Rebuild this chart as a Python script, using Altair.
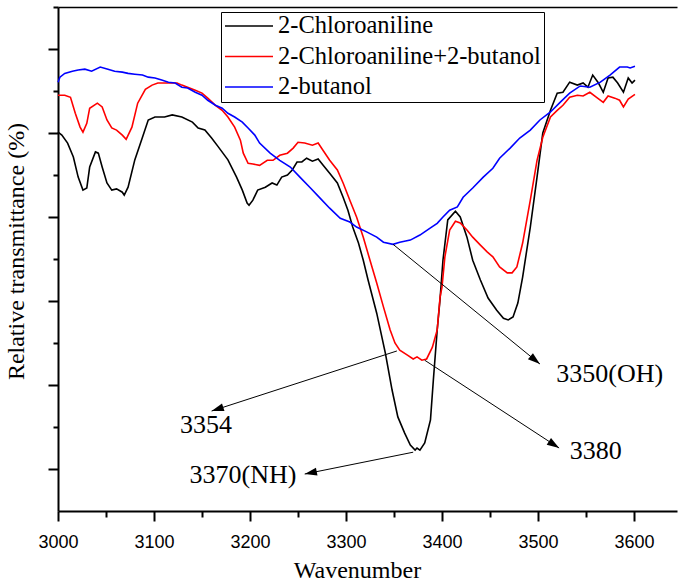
import math
import altair as alt
import pandas as pd

# ---------------- data ----------------
series_names = ["2-Chloroaniline", "2-Chloroaniline+2-butanol", "2-butanol"]
series_colors = ["#000000", "#ff0000", "#0000ff"]

bk_wn = [3000, 3004, 3010, 3016, 3021, 3026, 3030, 3033, 3039, 3042,
         3046, 3051, 3056, 3061, 3067, 3069, 3073, 3080, 3088, 3094,
         3101, 3111, 3119, 3129, 3140, 3146, 3153, 3160, 3167, 3177,
         3186, 3192, 3197, 3199, 3203, 3208, 3216, 3223, 3228, 3233,
         3239, 3244, 3249, 3254, 3259, 3265, 3271, 3276, 3283, 3291,
         3297, 3302, 3307, 3313, 3318, 3323, 3332, 3341, 3348, 3354,
         3361, 3367, 3372, 3374, 3377, 3382, 3388, 3391, 3395, 3398,
         3401, 3406, 3414, 3419, 3426, 3432, 3440, 3448, 3457, 3464,
         3469, 3474, 3479, 3484, 3492, 3499, 3505, 3513, 3520, 3526,
         3533, 3541, 3547, 3552, 3557, 3563, 3568, 3573, 3578, 3583,
         3589, 3594, 3598, 3601]
bk_t = [90.2, 89.5, 87.6, 84.3, 79.5, 76.4, 76.9, 81.9, 85.5, 85.2,
        81.9, 78.1, 76.4, 76.7, 75.9, 75.2, 77.1, 83.6, 89.0, 93.1,
        93.8, 93.8, 94.3, 93.8, 92.6, 91.2, 90.7, 88.8, 86.7, 83.6,
        79.5, 76.4, 73.3, 72.8, 74.0, 76.4, 77.1, 78.1, 77.6, 79.5,
        80.0, 81.2, 83.1, 83.1, 84.0, 83.3, 83.8, 82.4, 80.4, 78.1,
        74.7, 71.6, 67.6, 63.8, 59.7, 55.0, 47.1, 37.6, 28.8, 22.4,
        18.6, 15.7, 14.5, 15.0, 14.5, 16.2, 21.7, 31.2, 43.1, 50.5,
        59.7, 69.3, 71.4, 70.0, 65.2, 59.7, 55.0, 50.7, 47.8, 45.9,
        45.5, 46.2, 49.5, 55.7, 67.6, 79.5, 90.0, 95.4, 99.5, 99.7,
        102.1, 101.4, 101.9, 100.9, 103.8, 101.9, 99.7, 103.1, 103.3, 101.9,
        99.7, 103.1, 101.9, 102.6]

rd_wn = [3000, 3007, 3013, 3018, 3023, 3026, 3030, 3033, 3041, 3046,
         3051, 3056, 3061, 3067, 3071, 3077, 3083, 3091, 3098, 3104,
         3111, 3119, 3124, 3129, 3135, 3143, 3150, 3156, 3164, 3171,
         3177, 3184, 3190, 3193, 3198, 3203, 3210, 3218, 3224, 3231,
         3239, 3245, 3250, 3257, 3265, 3271, 3276, 3283, 3291, 3297,
         3304, 3311, 3318, 3325, 3332, 3339, 3346, 3351, 3356, 3364,
         3370, 3374, 3379, 3384, 3390, 3395, 3398, 3400, 3403, 3408,
         3414, 3419, 3426, 3432, 3440, 3447, 3453, 3460, 3468, 3473,
         3478, 3484, 3492, 3499, 3505, 3513, 3520, 3526, 3533, 3541,
         3547, 3554, 3561, 3568, 3573, 3580, 3585, 3589, 3594, 3601]
rd_t = [99.0, 99.0, 98.5, 94.7, 91.4, 90.2, 92.3, 95.9, 97.1, 96.2,
        93.1, 91.2, 90.7, 89.5, 88.5, 91.4, 97.1, 100.4, 101.4, 101.9,
        101.9, 101.9, 101.9, 101.4, 100.9, 100.2, 99.5, 98.3, 96.6, 95.4,
        93.8, 91.4, 88.3, 85.2, 82.8, 82.6, 82.3, 83.5, 83.5, 84.7,
        85.2, 86.4, 87.8, 87.6, 87.1, 87.6, 85.9, 83.5, 81.2, 78.1,
        74.0, 70.0, 65.2, 59.7, 54.3, 48.6, 43.1, 40.0, 38.3, 37.1,
        36.2, 36.7, 35.9, 36.2, 39.0, 43.1, 50.9, 53.3, 60.5, 66.9,
        69.0, 68.6, 66.9, 65.2, 63.3, 61.7, 60.5, 58.1, 56.7, 56.7,
        58.1, 63.8, 74.0, 83.5, 89.0, 93.8, 95.4, 96.6, 98.5, 99.0,
        98.8, 99.7, 98.5, 97.3, 98.8, 98.3, 97.8, 96.2, 98.1, 99.2]

bl_wn = [3000, 3002, 3007, 3015, 3021, 3028, 3035, 3044, 3052, 3059,
         3067, 3073, 3080, 3088, 3094, 3101, 3108, 3115, 3122, 3129,
         3135, 3143, 3150, 3156, 3164, 3171, 3177, 3184, 3192, 3198,
         3205, 3210, 3221, 3231, 3242, 3252, 3263, 3273, 3283, 3294,
         3304, 3311, 3322, 3332, 3339, 3349, 3356, 3367, 3377, 3388,
         3395, 3401, 3408, 3416, 3422, 3432, 3443, 3453, 3460, 3471,
         3481, 3492, 3502, 3513, 3523, 3533, 3544, 3554, 3565, 3575,
         3585, 3593, 3596, 3601]
bl_t = [102.1, 103.3, 104.2, 104.7, 105.0, 105.2, 104.7, 105.7, 105.2, 104.7,
        104.5, 104.2, 104.0, 103.8, 103.3, 103.1, 102.6, 102.1, 101.9, 100.9,
        100.7, 99.7, 99.0, 97.8, 96.6, 95.9, 94.7, 93.8, 92.6, 91.2,
        89.5, 87.6, 85.2, 83.5, 81.9, 79.5, 76.9, 74.5, 72.1, 69.7,
        68.8, 67.6, 66.4, 65.2, 64.0, 63.5, 64.0, 64.5, 65.7, 67.4,
        68.5, 70.0, 71.6, 72.4, 74.7, 76.9, 79.5, 81.6, 84.0, 86.4,
        88.8, 90.7, 93.1, 95.0, 97.3, 99.5, 101.2, 100.9, 102.1, 103.8,
        105.7, 105.7, 105.5, 105.9]

# annotations: label anchor and arrow (from curve point to arrow tip)
ann_text = ["3350(OH)", "3354", "3380", "3370(NH)"]
ann_wn = [3519, 3127, 3533, 3137]
ann_t = [30.7, 18.6, 12.4, 6.7]
arr_from_wn = [3349, 3353, 3382, 3370]
arr_from_t = [63.5, 38.1, 35.9, 14.0]
arr_to_wn = [3502, 3160, 3522, 3257]
arr_to_t = [35.0, 23.8, 15.0, 8.8]

x_ticks = list(range(3000, 3601, 50))
y_ticks = list(range(10, 121, 10))

# ---------------- layout ----------------
W, H = 619, 504
X_DOMAIN = [3000, 3644.8]
Y_DOMAIN = [0, 120]
PX_X = W / (X_DOMAIN[1] - X_DOMAIN[0])
PX_Y = H / (Y_DOMAIN[1] - Y_DOMAIN[0])
SERIF = "Liberation Serif"
SANS = "Liberation Sans"

rows = []
for name, xs, ys in zip(series_names, [bk_wn, rd_wn, bl_wn], [bk_t, rd_t, bl_t]):
    assert len(xs) == len(ys), name
    for x, y in zip(xs, ys):
        rows.append({"series": name, "wn": x, "t": y})
df = pd.DataFrame(rows)

arr_rows = []
for a, b, c, d in zip(arr_from_wn, arr_from_t, arr_to_wn, arr_to_t):
    dx = (c - a) * PX_X
    dy = -(d - b) * PX_Y
    ang = math.degrees(math.atan2(dy, dx)) % 360
    arr_rows.append({"x1": a, "y1": b, "x2": c, "y2": d, "ang": ang})
arr_df = pd.DataFrame(arr_rows)
ann_df = pd.DataFrame({"text": ann_text, "wn": ann_wn, "t": ann_t})

xs = alt.Scale(domain=X_DOMAIN, nice=False, zero=False)
ys = alt.Scale(domain=Y_DOMAIN, nice=False, zero=False)

x_axis = alt.Axis(
    orient="bottom", values=x_ticks, format="d",
    labelExpr="datum.value % 100 == 0 ? datum.label : ''",
    tickSize={"condition": {"test": "datum.value % 100 == 0", "value": 10}, "value": 6},
    tickWidth=2, tickColor="black", domainColor="black", domainWidth=2,
    labelFont=SANS, labelFontSize=18, labelColor="black",
    labelBaseline="alphabetic", labelPadding=26, labelFlush=False, labelOverlap=False,
    grid=False,
    title="Wavenumber", titleFont=SERIF, titleFontSize=24, titleFontWeight="normal",
    titleColor="black", titleX=299, titleY=66, titleAlign="center",
    titleBaseline="alphabetic",
)
y_axis = alt.Axis(
    orient="left", values=y_ticks, labels=False,
    tickSize={"condition": {"test": "datum.value % 20 == 10", "value": 10}, "value": 5},
    tickWidth=2, tickColor="black", domainColor="black", domainWidth=2,
    grid=False,
    title="Relative transmittance (%)", titleFont=SERIF, titleFontSize=24,
    titleFontWeight="normal", titleColor="black", titleAngle=270,
    titleX=-35, titleY=244, titleAlign="center", titleBaseline="alphabetic",
)
top_axis = alt.Axis(orient="top", ticks=False, labels=False, domain=True,
                    domainColor="black", domainWidth=1.5, grid=False, title=None)

lines = alt.Chart(df).mark_line(strokeWidth=1.6).encode(
    x=alt.X("wn:Q", scale=xs, axis=x_axis),
    y=alt.Y("t:Q", scale=ys, axis=y_axis),
    color=alt.Color(
        "series:N",
        scale=alt.Scale(domain=series_names, range=series_colors),
        legend=alt.Legend(
            orient="none", legendX=163, legendY=5, title=None,
            direction="vertical",
            symbolType="stroke", symbolSize=2304, symbolStrokeWidth=1.6,
            clipHeight=22, rowPadding=5.5, padding=3, labelOffset=4,
            labelFont=SERIF, labelFontSize=24.5, labelColor="black", labelLimit=500,
            strokeColor="black", fillColor="white",
        ),
    ),
)

rules = alt.Chart(arr_df).mark_rule(color="black", strokeWidth=1).encode(
    x=alt.X("x1:Q", scale=xs, axis=top_axis),
    y=alt.Y("y1:Q", scale=ys, axis=None),
    x2="x2:Q",
    y2="y2:Q",
)

heads = alt.Chart(arr_df).mark_point(
    shape="M0,0L-2,-0.65L-2,0.65Z", filled=True, size=150,
    color="black", opacity=1, strokeWidth=0,
).encode(
    x=alt.X("x2:Q", scale=xs, axis=None),
    y=alt.Y("y2:Q", scale=ys, axis=None),
    angle=alt.Angle("ang:Q", scale=None),
)

labels = alt.Chart(ann_df).mark_text(
    align="left", baseline="alphabetic", font=SERIF, fontSize=26, color="black",
).encode(
    x=alt.X("wn:Q", scale=xs, axis=None),
    y=alt.Y("t:Q", scale=ys, axis=None),
    text="text:N",
)

chart = (
    alt.layer(lines, rules, heads, labels)
    .resolve_axis(x="independent", y="independent")
    .properties(
        width=W, height=H,
        padding={"left": 58, "top": 7, "right": 1, "bottom": 72},
        autosize=alt.AutoSizeParams(type="none"),
        background="white",
    )
    .configure_view(stroke=None)
)

chart.save("out.html", embed_options={"renderer": "svg", "actions": False})
